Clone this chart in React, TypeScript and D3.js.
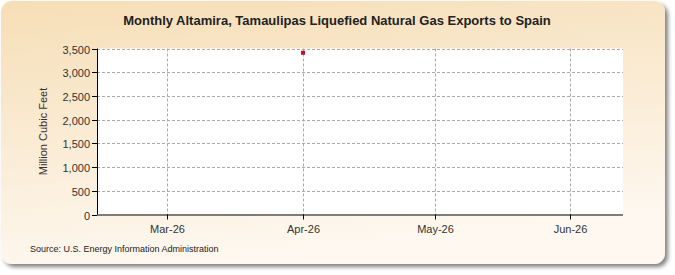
import React from "react";
import * as d3 from "d3";

const dates = ["2026-04-01"];
const values = [3410];
const yTicks = [0, 500, 1000, 1500, 2000, 2500, 3000, 3500];
const xTickDates = ["2026-03-01", "2026-04-01", "2026-05-01", "2026-06-01"];
const title = "Monthly Altamira, Tamaulipas Liquefied Natural Gas Exports to Spain";
const yLabel = "Million Cubic Feet";
const source = "Source: U.S. Energy Information Administration";

const W = 675, H = 275;
const m = { left: 97, right: 623, top: 48.5, bottom: 214.5 };

export default function App() {
  const parse = d3.utcParse("%Y-%m-%d");
  const x = d3.scaleUtc()
    .domain([parse("2026-02-13")!, parse("2026-06-13")!])
    .range([m.left, m.right]);
  const y = d3.scaleLinear().domain([0, 3500]).range([m.bottom, m.top]);
  const fmtX = d3.utcFormat("%b-%y");
  const fmtY = d3.format(",");
  const font = "'Liberation Sans', Arial, sans-serif";
  return (
    <div style={{ position: "absolute", left: 0, top: 0 }}>
      <svg width={W} height={H} style={{ display: "block" }}>
        <defs>
          <linearGradient id="bg" x1="0" y1="0" x2="0.25" y2="1">
            <stop offset="0" stopColor="#f6deb6" />
            <stop offset="1" stopColor="#fef8f0" />
          </linearGradient>
          <filter id="sh" x="-5%" y="-5%" width="110%" height="115%">
            <feGaussianBlur in="SourceAlpha" stdDeviation="2" />
            <feOffset dx="3" dy="3" result="b" />
            <feComponentTransfer><feFuncA type="linear" slope="0.5" /></feComponentTransfer>
            <feMerge><feMergeNode /><feMergeNode in="SourceGraphic" /></feMerge>
          </filter>
        </defs>
        <rect x={1} y={1} width={664} height={263} rx={11} fill="url(#bg)" filter="url(#sh)" />
        <text x={337} y={25} textAnchor="middle" fontFamily={font} fontWeight="bold" fontSize={13} fill="#222">{title}</text>
        <rect x={m.left} y={m.top} width={m.right - m.left} height={m.bottom - m.top} fill="#fff" />
        {yTicks.filter(t => t > 0).map(t => (
          <line key={"gy" + t} x1={m.left} x2={m.right} y1={Math.round(y(t)) + 0.5} y2={Math.round(y(t)) + 0.5} stroke="#aaa" strokeDasharray="3,2" />
        ))}
        {xTickDates.map(d => {
          const xx = Math.round(x(parse(d)!)) + 0.5;
          return <line key={"gx" + d} x1={xx} x2={xx} y1={m.top} y2={m.bottom} stroke="#aaa" strokeDasharray="3,2" />;
        })}
        <line x1={m.left + 0.5} x2={m.left + 0.5} y1={m.top} y2={m.bottom} stroke="#000" />
        <line x1={m.left} x2={m.right} y1={m.bottom + 0.5} y2={m.bottom + 0.5} stroke="#000" />
        {yTicks.map(t => {
          const yy = Math.round(y(t)) + 0.5;
          return (
            <g key={"ty" + t}>
              <line x1={m.left - 5} x2={m.left} y1={yy} y2={yy} stroke="#000" />
              <text x={m.left - 7} y={yy + 4} textAnchor="end" fontFamily={font} fontSize={11} fill="#333">{fmtY(t)}</text>
            </g>
          );
        })}
        {xTickDates.map(d => {
          const xx = Math.round(x(parse(d)!)) + 0.5;
          return (
            <g key={"tx" + d}>
              <line x1={xx} x2={xx} y1={m.bottom} y2={m.bottom + 5} stroke="#000" />
              <text x={xx} y={m.bottom + 18} textAnchor="middle" fontFamily={font} fontSize={11} fill="#333">{fmtX(parse(d)!)}</text>
            </g>
          );
        })}
        <text transform={`translate(47,${(m.top + m.bottom) / 2}) rotate(-90)`} textAnchor="middle" fontFamily={font} fontSize={11} fill="#333">{yLabel}</text>
        {dates.map((d, i) => (
          <rect key={d} x={x(parse(d)!) - 2} y={y(values[i]) - 2} width={4} height={4} fill="#c0112a" />
        ))}
        <text x={30} y={252} fontFamily={font} fontSize={9} fill="#222">{source}</text>
      </svg>
    </div>
  );
}
